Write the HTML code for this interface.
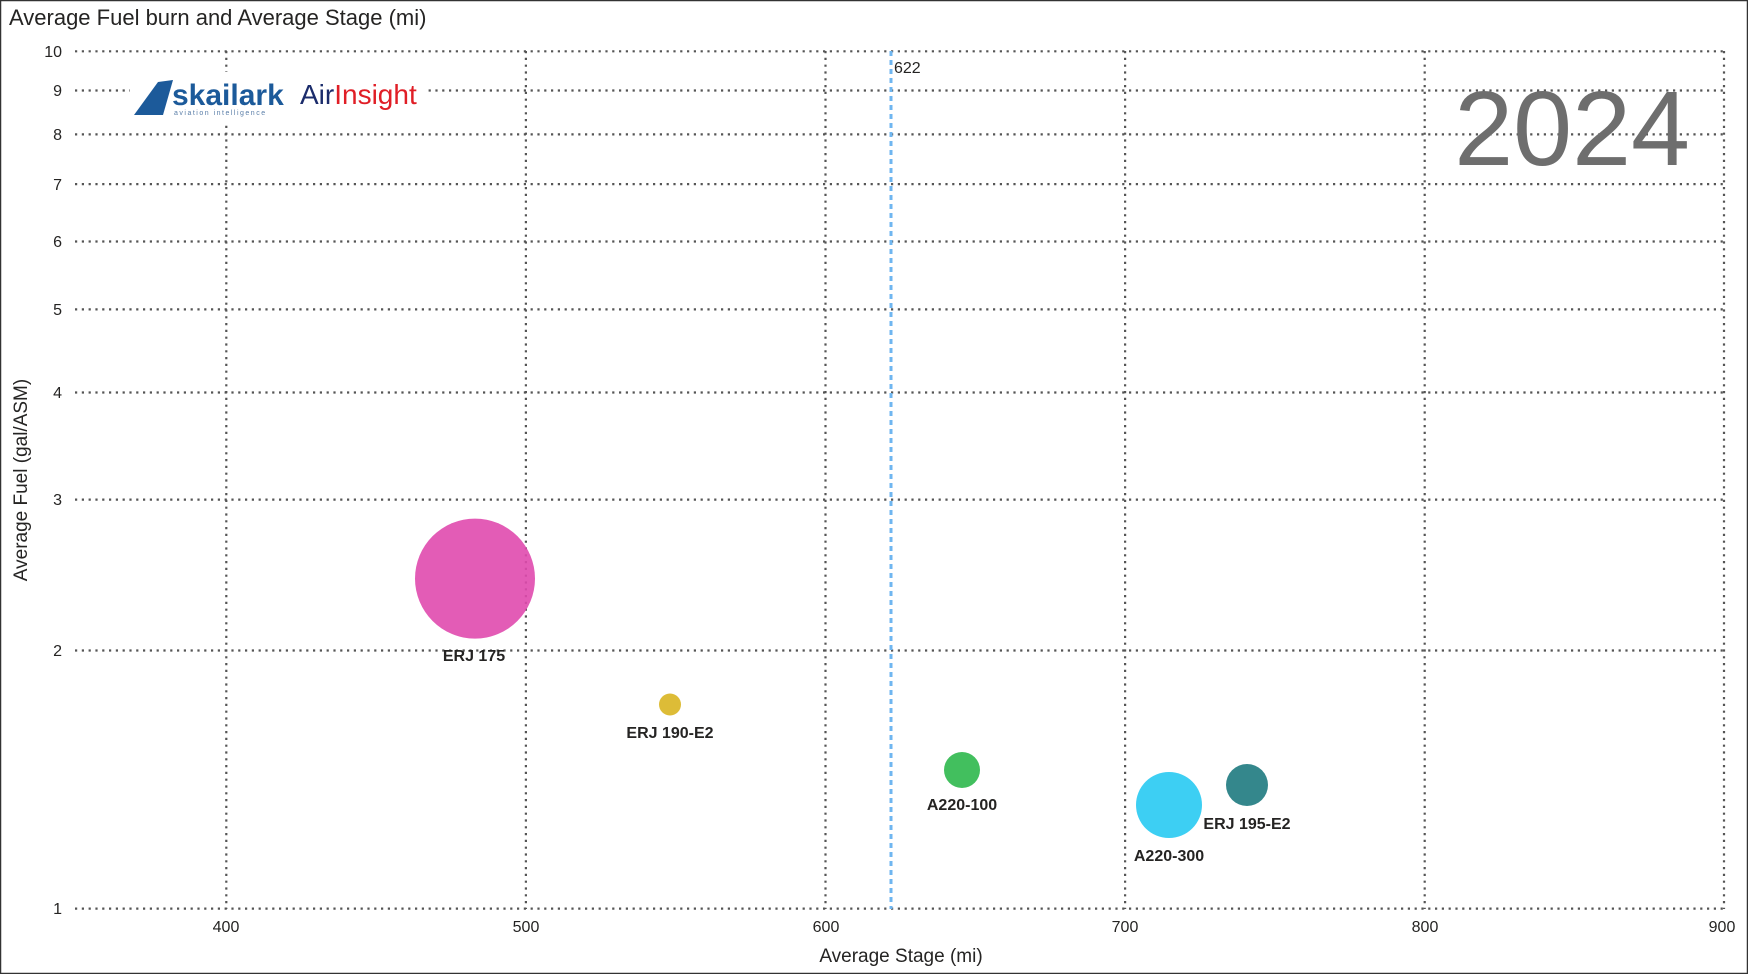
<!DOCTYPE html>
<html><head><meta charset="utf-8"><style>
body{margin:0;background:#fff;}
svg{display:block;font-family:"Liberation Sans",sans-serif;}
</style></head><body>
<svg width="1748" height="974" viewBox="0 0 1748 974">
<rect x="0.5" y="0.5" width="1747" height="973" fill="#fff" stroke="#333" stroke-width="1.5"/>
<text x="9" y="25" font-size="22" fill="#252423">Average Fuel burn and Average Stage (mi)</text>
<g stroke="#555" stroke-width="2.2" stroke-dasharray="2.2,4.6">
<line x1="75" x2="1724" y1="51.3" y2="51.3"/>
<line x1="75" x2="1724" y1="90.5" y2="90.5"/>
<line x1="75" x2="1724" y1="134.4" y2="134.4"/>
<line x1="75" x2="1724" y1="184.1" y2="184.1"/>
<line x1="75" x2="1724" y1="241.5" y2="241.5"/>
<line x1="75" x2="1724" y1="309.4" y2="309.4"/>
<line x1="75" x2="1724" y1="392.5" y2="392.5"/>
<line x1="75" x2="1724" y1="499.6" y2="499.6"/>
<line x1="75" x2="1724" y1="650.5" y2="650.5"/>
<line x1="75" x2="1724" y1="908.6" y2="908.6"/>
<line x1="226.3" x2="226.3" y1="51" y2="909"/>
<line x1="525.9" x2="525.9" y1="51" y2="909"/>
<line x1="825.5" x2="825.5" y1="51" y2="909"/>
<line x1="1125.1" x2="1125.1" y1="51" y2="909"/>
<line x1="1424.7" x2="1424.7" y1="51" y2="909"/>
<line x1="1724" x2="1724" y1="51" y2="909"/>
</g>
<rect x="130" y="72" width="295" height="50" fill="#fff"/>
<g font-size="16" fill="#252423" text-anchor="end">
<text x="62" y="57">10</text><text x="62" y="96">9</text><text x="62" y="140">8</text>
<text x="62" y="190">7</text><text x="62" y="247">6</text><text x="62" y="315">5</text>
<text x="62" y="398">4</text><text x="62" y="505">3</text><text x="62" y="656">2</text><text x="62" y="914">1</text>
</g>
<g font-size="16" fill="#252423" text-anchor="middle">
<text x="226" y="932">400</text><text x="526" y="932">500</text><text x="826" y="932">600</text>
<text x="1125" y="932">700</text><text x="1425" y="932">800</text><text x="1722" y="932">900</text>
</g>
<text x="901" y="962" font-size="19" text-anchor="middle" fill="#252423">Average Stage (mi)</text>
<text transform="translate(27,480) rotate(-90)" font-size="19" text-anchor="middle" fill="#252423">Average Fuel (gal/ASM)</text>
<line x1="891" x2="891" y1="51" y2="909" stroke="#6fb6f0" stroke-width="3" stroke-dasharray="5,4"/>
<text x="894" y="73" font-size="16" fill="#252423">622</text>
<text x="1690" y="165" font-size="106" fill="#6e6e6e" text-anchor="end">2024</text>
<polygon points="134,115 158,82 173,80 163,115" fill="#1c5a9a"/>
<text x="172" y="105" font-size="30" font-weight="bold" fill="#1c5a9a">skailark</text>
<text x="174" y="115" font-size="7" fill="#5a7ea8" letter-spacing="1.5">aviation intelligence</text>
<text x="300" y="104" font-size="28" fill="#1b2c6b">Air<tspan fill="#e01e26">Insight</tspan></text>
<circle cx="475" cy="578.6" r="60" fill="#e04aae" fill-opacity="0.9"/>
<circle cx="670" cy="704.5" r="11" fill="#d9b521" fill-opacity="0.9"/>
<circle cx="962" cy="770" r="18" fill="#2db84d" fill-opacity="0.9"/>
<circle cx="1169" cy="805" r="33" fill="#33ccf2" fill-opacity="0.95"/>
<circle cx="1247" cy="785" r="21" fill="#1e7a80" fill-opacity="0.9"/>
<g font-size="16" font-weight="bold" fill="#252423" text-anchor="middle">
<text x="474" y="661">ERJ 175</text>
<text x="670" y="738">ERJ 190-E2</text>
<text x="962" y="810">A220-100</text>
<text x="1169" y="861">A220-300</text>
<text x="1247" y="829">ERJ 195-E2</text>
</g>
</svg>
</body></html>
